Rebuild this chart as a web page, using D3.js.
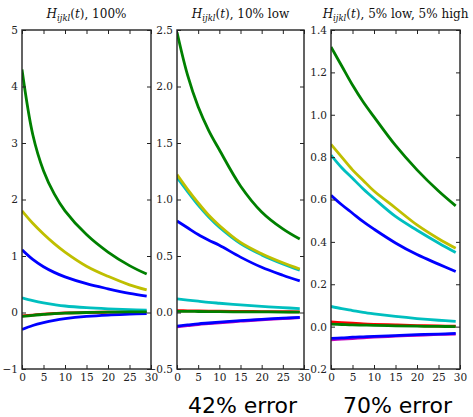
<!DOCTYPE html>
<html>
<head>
<meta charset="utf-8">
<script src="https://cdn.jsdelivr.net/npm/d3@7"></script>
<style>
  body { margin: 0; background: #fff; }
  svg { display: block; }
  .tick text { font-family: "DejaVu Serif", "Liberation Serif", serif; font-size: 10.5px; fill: #222; }
</style>
</head>
<body>
<svg id="chart" width="473" height="417"></svg>
<script>
var tSteps = [0, 2.5, 5, 7.5, 10, 15, 20, 25, 29];

// panel 1 : 100%
var p1Green   = [4.30, 3.15, 2.51, 2.10, 1.80, 1.38, 1.07, 0.83, 0.68];
var p1Yellow  = [1.80, 1.58, 1.39, 1.22, 1.07, 0.82, 0.64, 0.49, 0.40];
var p1Blue    = [1.11, 0.94, 0.81, 0.71, 0.63, 0.51, 0.42, 0.34, 0.29];
var p1Cyan    = [0.26, 0.21, 0.17, 0.14, 0.115, 0.085, 0.065, 0.05, 0.04];
var p1Red     = [-0.06, -0.045, -0.03, -0.018, -0.008, 0.0, 0.005, 0.008, 0.01];
var p1GreenLo = [-0.07, -0.05, -0.035, -0.02, -0.01, 0.0, 0.005, 0.01, 0.01];
var p1BlueLo  = [-0.30, -0.23, -0.18, -0.14, -0.11, -0.07, -0.045, -0.03, -0.02];

// panel 2 : 10% low
var p2Green   = [2.48, 2.10, 1.82, 1.61, 1.44, 1.12, 0.89, 0.74, 0.65];
var p2Cyan    = [1.195, 1.07, 0.95, 0.845, 0.755, 0.61, 0.51, 0.43, 0.375];
var p2Yellow  = [1.22, 1.09, 0.97, 0.86, 0.77, 0.62, 0.52, 0.44, 0.385];
var p2Blue    = [0.81, 0.75, 0.69, 0.64, 0.595, 0.49, 0.40, 0.33, 0.28];
var p2CyanLo  = [0.12, 0.11, 0.10, 0.09, 0.082, 0.067, 0.054, 0.043, 0.035];
var p2Red     = [0.016, 0.015, 0.014, 0.013, 0.012, 0.010, 0.008, 0.007, 0.006];
var p2GreenLo = [0.01, 0.01, 0.009, 0.008, 0.007, 0.006, 0.005, 0.004, 0.003];
var p2Magenta = [-0.127, -0.117, -0.107, -0.099, -0.091, -0.077, -0.064, -0.054, -0.046];
var p2BlueLo  = [-0.12, -0.11, -0.10, -0.093, -0.086, -0.072, -0.06, -0.05, -0.043];

// panel 3 : 5% low, 5% high
var p3Green   = [1.32, 1.23, 1.14, 1.06, 0.99, 0.855, 0.74, 0.64, 0.57];
var p3Yellow  = [0.86, 0.80, 0.74, 0.69, 0.64, 0.56, 0.48, 0.415, 0.37];
var p3Cyan    = [0.81, 0.75, 0.70, 0.65, 0.605, 0.52, 0.455, 0.395, 0.35];
var p3Blue    = [0.62, 0.575, 0.535, 0.495, 0.46, 0.395, 0.34, 0.295, 0.26];
var p3CyanLo  = [0.095, 0.085, 0.076, 0.067, 0.06, 0.048, 0.038, 0.03, 0.025];
var p3Red     = [0.022, 0.019, 0.016, 0.013, 0.011, 0.008, 0.005, 0.003, 0.002];
var p3GreenLo = [0.012, 0.010, 0.008, 0.007, 0.006, 0.004, 0.002, 0.001, 0.0];
var p3Magenta = [-0.062, -0.059, -0.056, -0.053, -0.05, -0.045, -0.041, -0.037, -0.035];
var p3BlueLo  = [-0.055, -0.053, -0.05, -0.048, -0.046, -0.042, -0.038, -0.035, -0.032];

var xTicks = [0, 5, 10, 15, 20, 25, 30];
var titles = ["100%", "10% low", "5% low, 5% high"];
var errorLabels = [null, "42% error", "70% error"];

var col = {b: "#0000ff", g: "#008000", r: "#ff0000", c: "#00bfbf", m: "#bf00bf", y: "#bfbf00"};

var panels = [
  {title: titles[0], left: 22, right: 151, yDomain: [-1, 5], yTicks: d3.range(-1, 5.01, 1), fmt: d3.format("d"),
   series: [[p1Red, col.r], [p1Cyan, col.c], [p1Yellow, col.y], [p1Blue, col.b], [p1Green, col.g],
            [p1BlueLo, col.b], [p1GreenLo, col.g]]},
  {title: titles[1], left: 177, right: 304, yDomain: [-0.5, 2.5], yTicks: d3.range(-0.5, 2.51, 0.5), fmt: d3.format(".1f"),
   series: [[p2Red, col.r], [p2Magenta, col.m], [p2Cyan, col.c], [p2Yellow, col.y], [p2Blue, col.b], [p2Green, col.g],
            [p2CyanLo, col.c], [p2BlueLo, col.b], [p2GreenLo, col.g]]},
  {title: titles[2], left: 331, right: 460, yDomain: [-0.2, 1.4], yTicks: d3.range(-0.2, 1.41, 0.2), fmt: d3.format(".1f"),
   series: [[p3Red, col.r], [p3Magenta, col.m], [p3Cyan, col.c], [p3Yellow, col.y], [p3Blue, col.b], [p3Green, col.g],
            [p3CyanLo, col.c], [p3BlueLo, col.b], [p3GreenLo, col.g]]}
];

var svg = d3.select("#chart"),
    plotTop = 30, plotBottom = 369;

panels.forEach(function(p, pi) {
  var x = d3.scaleLinear().domain([0, 30]).range([p.left, p.right]);
  var y = d3.scaleLinear().domain(p.yDomain).range([plotBottom, plotTop]);
  var g = svg.append("g");

  var line = d3.line()
      .x(function(d, i) { return x(tSteps[i]); })
      .y(function(d) { return y(d); })
      .curve(d3.curveCatmullRom.alpha(0.5));

  var clipId = "clip" + pi;
  g.append("clipPath").attr("id", clipId)
    .append("rect").attr("x", p.left).attr("y", plotTop)
      .attr("width", p.right - p.left).attr("height", plotBottom - plotTop);

  g.append("g").attr("clip-path", "url(#" + clipId + ")")
    .selectAll("path")
    .data(p.series)
    .enter().append("path")
      .attr("d", function(s) { return line(s[0]); })
      .attr("fill", "none")
      .attr("stroke", function(s) { return s[1]; })
      .attr("stroke-width", 2.8)
      .attr("stroke-linecap", "butt");

  var fmt = function(d) { return p.fmt(d).replace("-", "\u2212"); };

  // axes, ticks pointing inward like matplotlib
  g.append("g").attr("transform", "translate(" + p.left + ",0)")
    .call(d3.axisLeft(y).tickValues(p.yTicks).tickFormat(fmt).tickSizeInner(-4).tickSizeOuter(0).tickPadding(4))
    .call(function(a) { a.select(".domain").remove(); });
  g.append("g").attr("transform", "translate(" + p.right + ",0)")
    .call(d3.axisRight(y).tickValues(p.yTicks).tickFormat("").tickSizeInner(-4).tickSizeOuter(0))
    .call(function(a) { a.select(".domain").remove(); });
  g.append("g").attr("transform", "translate(0," + plotBottom + ")")
    .call(d3.axisBottom(x).tickValues(xTicks).tickFormat(d3.format("d")).tickSizeInner(-4).tickSizeOuter(0).tickPadding(5))
    .call(function(a) { a.select(".domain").remove(); });
  g.append("g").attr("transform", "translate(0," + plotTop + ")")
    .call(d3.axisTop(x).tickValues(xTicks).tickFormat("").tickSizeInner(-4).tickSizeOuter(0))
    .call(function(a) { a.select(".domain").remove(); });
  g.selectAll(".tick line").attr("stroke", "#222");

  g.append("rect")
    .attr("x", p.left).attr("y", plotTop)
    .attr("width", p.right - p.left).attr("height", plotBottom - plotTop)
    .attr("fill", "none").attr("stroke", "#222").attr("stroke-width", 1.4);

  // title  H_ijkl(t), ...
  var t = svg.append("text")
      .attr("x", (p.left + p.right) / 2).attr("y", 18)
      .attr("text-anchor", "middle")
      .attr("font-family", "DejaVu Serif, Liberation Serif, serif")
      .attr("font-size", 12).attr("fill", "#111");
  t.append("tspan").attr("font-style", "italic").text("H");
  t.append("tspan").attr("font-style", "italic").attr("font-size", 8.5).attr("dy", 2.5).text("ijkl");
  t.append("tspan").attr("dy", -2.5).text("(");
  t.append("tspan").attr("font-style", "italic").text("t");
  t.append("tspan").text("), " + p.title);

  if (errorLabels[pi]) {
    svg.append("text")
      .attr("x", (p.left + p.right) / 2 + 2).attr("y", 413)
      .attr("text-anchor", "middle")
      .attr("font-family", "DejaVu Sans, sans-serif")
      .attr("font-size", 22).attr("fill", "#000")
      .text(errorLabels[pi]);
  }
});
</script>
</body>
</html>
